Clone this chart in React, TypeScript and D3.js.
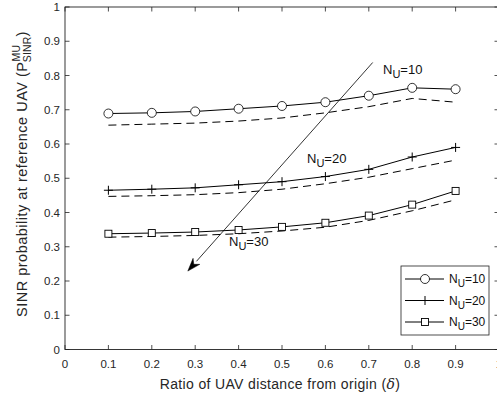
import React from "react";
import * as d3 from "d3";

const deltas = [0.1, 0.2, 0.3, 0.4, 0.5, 0.6, 0.7, 0.8, 0.9];
const n10Solid = [0.689, 0.691, 0.695, 0.703, 0.711, 0.722, 0.741, 0.764, 0.760];
const n10Dashed = [0.655, 0.658, 0.661, 0.667, 0.676, 0.691, 0.709, 0.733, 0.722];
const n20Solid = [0.465, 0.468, 0.472, 0.481, 0.490, 0.505, 0.526, 0.562, 0.590];
const n20Dashed = [0.447, 0.449, 0.452, 0.458, 0.468, 0.484, 0.503, 0.528, 0.553];
const n30Solid = [0.338, 0.340, 0.343, 0.349, 0.358, 0.370, 0.391, 0.423, 0.463];
const n30Dashed = [0.328, 0.330, 0.333, 0.338, 0.346, 0.357, 0.377, 0.405, 0.437];
const xTicks = [0, 0.1, 0.2, 0.3, 0.4, 0.5, 0.6, 0.7, 0.8, 0.9, 1];
const yTicks = [0, 0.1, 0.2, 0.3, 0.4, 0.5, 0.6, 0.7, 0.8, 0.9, 1];
const legendNames = ["10", "20", "30"];
// arrow annotation, data coords: [start, end]
const arrowPts = [[0.709, 0.838], [0.283, 0.229]];

const font = "'Liberation Sans', Arial, Helvetica, sans-serif";

const Marker = ({ kind, x, y }) => {
  if (kind === "circle")
    return <circle cx={x} cy={y} r={4.5} fill="white" stroke="black" strokeWidth={0.8} />;
  if (kind === "plus")
    return (
      <path d={`M${x - 4.5},${y}H${x + 4.5}M${x},${y - 4.5}V${y + 4.5}`} stroke="black" strokeWidth={1} />
    );
  return <rect x={x - 3.5} y={y - 3.5} width={7} height={7} fill="white" stroke="black" strokeWidth={0.9} />;
};

const Label = ({ x, y, n, size = 12 }) => (
  <text x={x} y={y} fontSize={size} fontFamily={font} fill="#111">
    N<tspan dy={4} fontSize={size - 2}>U</tspan>
    <tspan dy={-4}>={n}</tspan>
  </text>
);

export default function App() {
  const width = 497;
  const height = 396;
  const m = { left: 65, top: 7, right: 499, bottom: 349.5 };

  const x = d3.scaleLinear().domain([0, 1]).range([m.left, m.right]);
  const y = d3.scaleLinear().domain([0, 1]).range([m.bottom, m.top]);
  const line = d3
    .line<number>()
    .x((_, i) => x(deltas[i]))
    .y((d) => y(d));

  const series = [
    { solid: n10Solid, dashed: n10Dashed, kind: "circle" },
    { solid: n20Solid, dashed: n20Dashed, kind: "plus" },
    { solid: n30Solid, dashed: n30Dashed, kind: "square" },
  ];

  const ax0 = x(arrowPts[0][0]);
  const ay0 = y(arrowPts[0][1]);
  const ax1 = x(arrowPts[1][0]);
  const ay1 = y(arrowPts[1][1]);
  const ang = Math.atan2(ay1 - ay0, ax1 - ax0);
  const hl = 13;
  const hw = 4.5;
  const bx = ax1 - hl * Math.cos(ang);
  const by = ay1 - hl * Math.sin(ang);
  const head = `M${ax1},${ay1}L${bx + hw * Math.sin(ang)},${by - hw * Math.cos(ang)}L${bx + 4 * Math.cos(ang)},${by + 4 * Math.sin(ang)}L${bx - hw * Math.sin(ang)},${by + hw * Math.cos(ang)}Z`;

  const lg = { x: 401, y: 266, w: 88, h: 69 };
  const rows = [279, 300.5, 322];

  return (
    <div style={{ position: "absolute", left: 0, top: 0 }}>
      <svg width={width} height={height} style={{ display: "block", background: "white" }}>
        <rect x={m.left} y={m.top} width={m.right - m.left} height={m.bottom - m.top} fill="white" />

        {/* ticks */}
        {xTicks.map((t) => (
          <g key={"x" + t}>
            <line x1={x(t)} x2={x(t)} y1={m.bottom} y2={m.bottom - 4.5} stroke="#222" strokeWidth={0.8} />
            <line x1={x(t)} x2={x(t)} y1={m.top} y2={m.top + 4.5} stroke="#222" strokeWidth={0.8} />
            <text x={x(t)} y={m.bottom + 18} textAnchor="middle" fontSize={11.5} fontFamily={font} fill="#262626">
              {t}
            </text>
          </g>
        ))}
        {yTicks.map((t) => (
          <g key={"y" + t}>
            <line x1={m.left} x2={m.left + 4.5} y1={y(t)} y2={y(t)} stroke="#222" strokeWidth={0.8} />
            <line x1={m.right} x2={m.right - 4.5} y1={y(t)} y2={y(t)} stroke="#222" strokeWidth={0.8} />
            <text x={m.left - 5} y={y(t) + 4} textAnchor="end" fontSize={11.5} fontFamily={font} fill="#262626">
              {t}
            </text>
          </g>
        ))}

        {/* series */}
        {series.map((s, k) => (
          <g key={k}>
            <path d={line(s.dashed)} fill="none" stroke="black" strokeWidth={1} strokeDasharray="8,5" />
            <path d={line(s.solid)} fill="none" stroke="black" strokeWidth={1} />
            {s.solid.map((v, i) => (
              <Marker key={i} kind={s.kind} x={x(deltas[i])} y={y(v)} />
            ))}
          </g>
        ))}

        {/* arrow */}
        <line x1={ax0} y1={ay0} x2={bx} y2={by} stroke="black" strokeWidth={0.8} />
        <path d={head} fill="black" stroke="black" strokeWidth={0.5} />

        <Label x={383} y={74} n={10} size={13} />
        <Label x={307} y={163} n={20} size={13} />
        <Label x={229} y={246} n={30} size={13} />

        {/* box */}
        <rect x={m.left} y={m.top} width={m.right - m.left} height={m.bottom - m.top} fill="none" stroke="#222" strokeWidth={0.9} />

        {/* legend */}
        <rect x={lg.x} y={lg.y} width={lg.w} height={lg.h} fill="white" stroke="#222" strokeWidth={0.8} />
        {series.map((s, k) => (
          <g key={"lg" + k}>
            <line x1={405} x2={444} y1={rows[k]} y2={rows[k]} stroke="black" strokeWidth={1} />
            <Marker kind={s.kind} x={425} y={rows[k]} />
            <Label x={449} y={rows[k] + 4} n={legendNames[k]} />
          </g>
        ))}

        {/* axis titles */}
        <text x={x(0.5) - 2} y={389} textAnchor="middle" fontSize={14} letterSpacing={0.35} fontFamily={font} fill="#262626">
          Ratio of UAV distance from origin (<tspan fontStyle="italic" fontFamily="'DejaVu Serif', serif">δ</tspan>)
        </text>
        <g transform="translate(27,317) rotate(-90)">
          <text x={0} y={0} fontSize={14.5} letterSpacing={0.5} fontFamily={font} fill="#262626">
            SINR probability at reference UAV (P
            <tspan dy={-7} fontSize={10.5} letterSpacing={0.2}>MU</tspan>
            <tspan dx={-17.5} dy={11} fontSize={10.5} letterSpacing={0.2}>SINR</tspan>
            <tspan dy={-4}>)</tspan>
          </text>
        </g>
      </svg>
    </div>
  );
}
